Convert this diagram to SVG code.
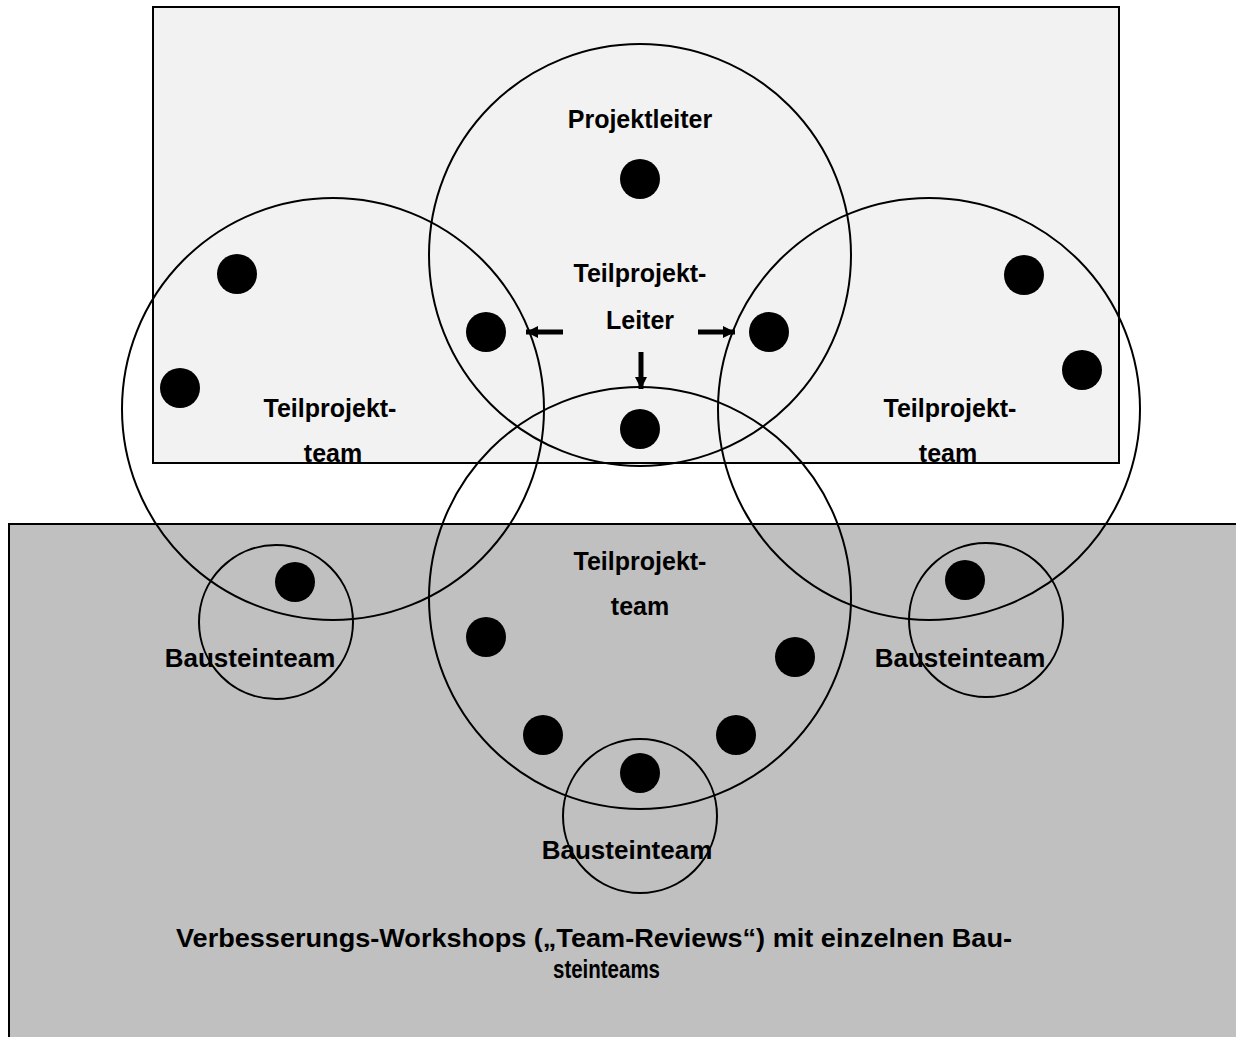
<svg xmlns="http://www.w3.org/2000/svg" width="1236" height="1037" viewBox="0 0 1236 1037">
<style>
.ring{fill:none;stroke:#000;stroke-width:2}
.dot{fill:#000}
.lbl{font-family:"Liberation Sans",Arial,sans-serif;font-weight:bold;font-size:25px;fill:#000;text-anchor:middle}
.bt{font-size:26px}
.foot{font-family:"Liberation Sans",Arial,sans-serif;font-weight:bold;font-size:26px;fill:#000}
.arr{stroke:#000;stroke-width:5;fill:none}
</style>
<defs>
<marker id="ah" markerUnits="userSpaceOnUse" markerWidth="14" markerHeight="14" refX="12" refY="6" orient="auto">
<path d="M0,0 L12,6 L0,12 Z" fill="#000"/>
</marker>
</defs>
<g id="area-top"><rect x="153" y="7" width="966" height="456" fill="#f2f2f2" stroke="#000" stroke-width="2"/></g>
<g id="area-bottom"><rect x="9" y="524" width="1240" height="520" fill="#c0c0c0" stroke="#000" stroke-width="2"/></g>

<g id="projektleiter">
<circle class="ring" cx="640" cy="255" r="211"/>
<text class="lbl" x="640" y="128">Projektleiter</text>
<circle class="dot" cx="640" cy="179" r="20"/>
<text class="lbl" x="640" y="282">Teilprojekt-</text>
<text class="lbl" x="640" y="329">Leiter</text>
<circle class="dot" cx="486" cy="332" r="20"/>
<circle class="dot" cx="769" cy="332" r="20"/>
<circle class="dot" cx="640" cy="429" r="20"/>
</g>

<g id="team-left">
<circle class="ring" cx="333" cy="409" r="211"/>
<circle class="dot" cx="237" cy="274" r="20"/>
<circle class="dot" cx="180" cy="388" r="20"/>
<text class="lbl" x="330" y="417">Teilprojekt-</text>
<text class="lbl" x="333" y="462">team</text>
<circle class="dot" cx="295" cy="582" r="20"/>
</g>

<g id="team-right">
<circle class="ring" cx="929" cy="409" r="211"/>
<circle class="dot" cx="1024" cy="275" r="20"/>
<circle class="dot" cx="1082" cy="370" r="20"/>
<text class="lbl" x="950" y="417">Teilprojekt-</text>
<text class="lbl" x="948" y="462">team</text>
<circle class="dot" cx="965" cy="580" r="20"/>
</g>

<g id="team-bottom">
<circle class="ring" cx="640" cy="598" r="211"/>
<text class="lbl" x="640" y="570">Teilprojekt-</text>
<text class="lbl" x="640" y="615">team</text>
<circle class="dot" cx="486" cy="637" r="20"/>
<circle class="dot" cx="795" cy="657" r="20"/>
<circle class="dot" cx="543" cy="735" r="20"/>
<circle class="dot" cx="736" cy="735" r="20"/>
<circle class="dot" cx="640" cy="773" r="20"/>
</g>

<g id="baustein-left">
<circle class="ring" cx="276" cy="622" r="77"/>
<text class="lbl bt" x="250" y="667">Bausteinteam</text>
</g>
<g id="baustein-right">
<circle class="ring" cx="986" cy="620" r="77"/>
<text class="lbl bt" x="960" y="667">Bausteinteam</text>
</g>
<g id="baustein-bottom">
<circle class="ring" cx="640" cy="816" r="77"/>
<text class="lbl bt" x="627" y="859">Bausteinteam</text>
</g>

<g id="connectors">
<line class="arr" x1="563" y1="332" x2="526" y2="332" marker-end="url(#ah)"/>
<line class="arr" x1="698" y1="332" x2="735" y2="332" marker-end="url(#ah)"/>
<line class="arr" x1="641" y1="352" x2="641" y2="389" marker-end="url(#ah)"/>
</g>

<g id="caption">
<text class="foot" x="176" y="947" textLength="836" lengthAdjust="spacingAndGlyphs">Verbesserungs-Workshops („Team-Reviews“) mit einzelnen Bau-</text>
<text class="foot" x="553" y="978" textLength="107" lengthAdjust="spacingAndGlyphs">steinteams</text>
</g>
</svg>
